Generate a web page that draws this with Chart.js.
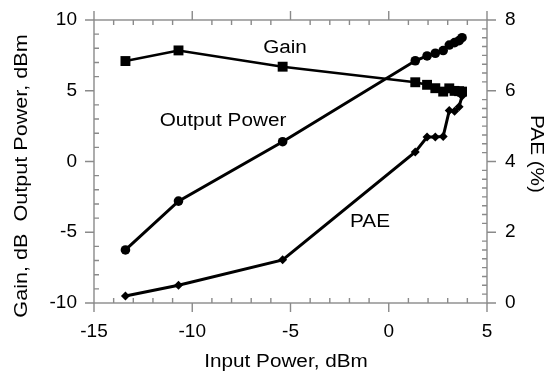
<!DOCTYPE html>
<html>
<head>
<meta charset="utf-8">
<script src="https://cdn.jsdelivr.net/npm/chart.js@4/dist/chart.umd.min.js"></script>
<style>
  html, body { margin: 0; padding: 0; background: #fff; }
  #wrap { width: 552px; height: 377px; }
</style>
</head>
<body>
<div id="wrap"><canvas id="chart-area" width="552" height="377"></canvas></div>
<script>
// values
var inputPower = [-13.4, -10.7, -5.4, 1.35, 1.95, 2.37, 2.77, 3.08, 3.35, 3.58, 3.73];
var gain = [7.1, 7.85, 6.7, 5.6, 5.42, 5.18, 4.94, 5.17, 4.99, 4.97, 4.94];
var outputPower = [-6.25, -2.8, 1.4, 7.12, 7.46, 7.65, 7.84, 8.23, 8.4, 8.54, 8.75];
var pae = [0.2, 0.5, 1.22, 4.27, 4.69, 4.69, 4.71, 5.44, 5.42, 5.55, 5.85];

var xTicks = [-15, -10, -5, 0, 5];
var leftTicks = [-10, -5, 0, 5, 10];
var rightTicks = [0, 2, 4, 6, 8];

var xTitle = 'Input Power, dBm';
var leftTitle = 'Gain, dB  Output Power, dBm';
var rightTitle = 'PAE (%)';

var FONT = 'Arial, "Liberation Sans", Helvetica, sans-serif';
var AXIS = '#8a8a8a';

function pts(ys) {
    return inputPower.map(function(x, i) { return {x: x, y: ys[i]}; });
}

// box, major ticks outward, minor ticks inward
var frameTicks = {
    id: 'frameTicks',
    afterDraw: function(chart) {
        var ctx = chart.ctx, a = chart.chartArea;
        var sx = chart.scales.x, sl = chart.scales.yL, sr = chart.scales.yR;
        ctx.save();
        ctx.strokeStyle = AXIS;
        ctx.lineWidth = 1.4;
        ctx.strokeRect(a.left, a.top, a.right - a.left, a.bottom - a.top);
        ctx.beginPath();
        var v, p;
        for (v = -15; v <= 5; v++) {
            p = sx.getPixelForValue(v);
            if (v % 5 === 0) {
                ctx.moveTo(p, a.bottom); ctx.lineTo(p, a.bottom + 9);
                ctx.moveTo(p, a.top); ctx.lineTo(p, a.top - 9);
            } else {
                ctx.moveTo(p, a.bottom); ctx.lineTo(p, a.bottom - 5);
                ctx.moveTo(p, a.top); ctx.lineTo(p, a.top + 5);
            }
        }
        for (v = -10; v <= 10; v++) {
            p = sl.getPixelForValue(v);
            if (v % 5 === 0) { ctx.moveTo(a.left, p); ctx.lineTo(a.left - 9, p); }
            else { ctx.moveTo(a.left, p); ctx.lineTo(a.left + 5, p); }
        }
        for (v = 0; v <= 32; v++) {
            p = sr.getPixelForValue(v / 4);
            if (v % 8 === 0) { ctx.moveTo(a.right, p); ctx.lineTo(a.right + 9, p); }
            else { ctx.moveTo(a.right, p); ctx.lineTo(a.right - 5, p); }
        }
        ctx.stroke();
        ctx.restore();
    }
};

function stretchText(ctx, text, x, y, rot, sx) {
    ctx.save();
    ctx.translate(x, y);
    ctx.rotate(rot);
    ctx.scale(sx, 1);
    ctx.fillText(text, 0, 0);
    ctx.restore();
}

var labels = {
    id: 'labels',
    afterDraw: function(chart) {
        var ctx = chart.ctx;
        ctx.save();
        ctx.fillStyle = '#000';
        ctx.textAlign = 'center';
        ctx.textBaseline = 'middle';
        ctx.font = '18px ' + FONT;
        stretchText(ctx, xTitle, 286, 362, 0, 1.15);
        stretchText(ctx, leftTitle, 22, 176, -Math.PI / 2, 1.2);
        stretchText(ctx, rightTitle, 536, 154, Math.PI / 2, 1.15);
        stretchText(ctx, 'Gain', 285, 48, 0, 1.15);
        stretchText(ctx, 'Output Power', 223, 121, 0, 1.15);
        stretchText(ctx, 'PAE', 370, 222, 0, 1.15);
        ctx.restore();
    }
};

function noPad(s) {
    s.paddingTop = 0; s.paddingBottom = 0; s.paddingLeft = 0; s.paddingRight = 0;
}

var config = {
    type: 'scatter',
    data: {
        datasets: [{
            label: 'Gain',
            data: pts(gain),
            yAxisID: 'yL',
            showLine: true,
            borderColor: '#000',
            backgroundColor: '#000',
            borderWidth: 2.5,
            pointStyle: 'rect',
            pointRadius: 7,
            pointBorderWidth: 0
        }, {
            label: 'Output Power',
            data: pts(outputPower),
            yAxisID: 'yL',
            showLine: true,
            borderColor: '#000',
            backgroundColor: '#000',
            borderWidth: 3,
            pointStyle: 'circle',
            pointRadius: 4.8,
            pointBorderWidth: 0
        }, {
            label: 'PAE',
            data: pts(pae),
            yAxisID: 'yR',
            showLine: true,
            borderColor: '#000',
            backgroundColor: '#000',
            borderWidth: 3,
            pointStyle: 'rectRot',
            pointRadius: 4.5,
            pointBorderWidth: 0
        }]
    },
    options: {
        responsive: false,
        animation: false,
        layout: { padding: { top: 20, left: 0, right: 0, bottom: 0 } },
        plugins: { legend: { display: false }, tooltip: { enabled: false } },
        scales: {
            x: {
                type: 'linear', position: 'bottom', min: -15, max: 5,
                afterFit: function(s) { s.height = 74; noPad(s); },
                afterBuildTicks: function(s) { s.ticks = xTicks.map(function(v) { return {value: v}; }); },
                grid: { display: false, drawTicks: false },
                border: { display: false },
                ticks: { color: '#000', padding: 17, font: { family: FONT, size: 19 } }
            },
            yL: {
                type: 'linear', position: 'left', min: -10, max: 10,
                afterFit: function(s) { s.width = 94; noPad(s); },
                afterBuildTicks: function(s) { s.ticks = leftTicks.map(function(v) { return {value: v}; }); },
                grid: { display: false, drawTicks: false },
                border: { display: false },
                ticks: { color: '#000', padding: 17, font: { family: FONT, size: 19 } }
            },
            yR: {
                type: 'linear', position: 'right', min: 0, max: 8,
                afterFit: function(s) { s.width = 65; noPad(s); },
                afterBuildTicks: function(s) { s.ticks = rightTicks.map(function(v) { return {value: v}; }); },
                grid: { display: false, drawTicks: false },
                border: { display: false },
                ticks: { color: '#000', padding: 18, font: { family: FONT, size: 19 } }
            }
        }
    },
    plugins: [frameTicks, labels]
};

var ctx = document.getElementById('chart-area').getContext('2d');
window.perfChart = new Chart(ctx, config);
</script>
</body>
</html>
